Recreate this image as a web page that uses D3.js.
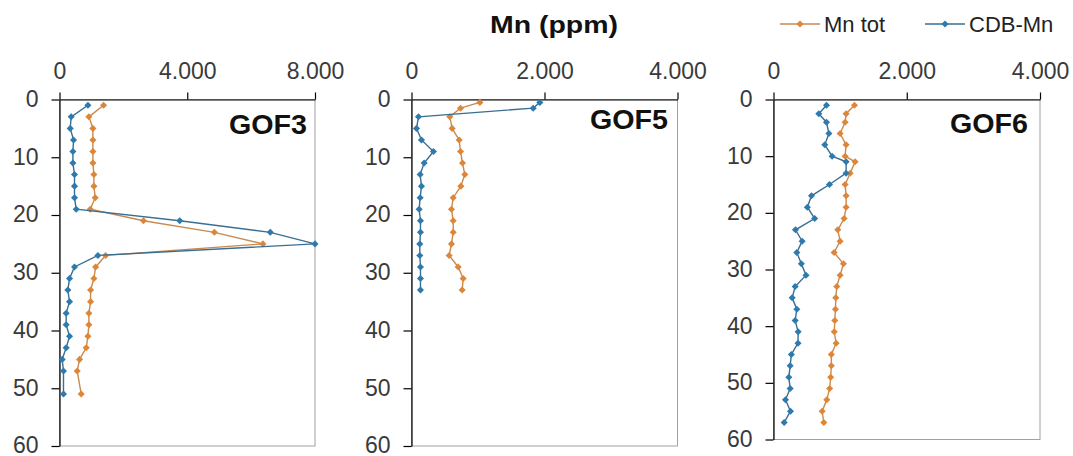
<!DOCTYPE html>
<html><head><meta charset="utf-8">
<script src="https://cdn.jsdelivr.net/npm/d3@7"></script>
<style>
html,body{margin:0;padding:0;background:#fff;}
svg{display:block;font-family:Arial,"Liberation Sans",sans-serif;}
</style></head>
<body><svg id="c" width="1073" height="456"></svg>
<script>
// ---------- DATA ----------
const seriesNames = ["Mn tot", "CDB-Mn"];
const depthTicks = [0, 10, 20, 30, 40, 50, 60];
const depthTickLabels = ["0", "10", "20", "30", "40", "50", "60"];

const gof3Ticks = [0, 4000, 8000];
const gof3TickLabels = ["0", "4.000", "8.000"];
const gof3Depth = [1,3,5,7,9,11,13,15,17,19,21,23,25,27,29,31,33,35,37,39,41,43,45,47,51];
const gof3MnTot = [1380,920,1046,1046,1046,1046,1077,1077,1119,962,2630,4850,6370,1444,1130,1077,973,973,920,920,889,837,628,554,680];
const gof3CdbMn = [890,366,335,440,420,420,470,470,470,523,3766,6600,8000,1203,470,314,261,314,209,209,314,209,84,125,125];

const gof5Ticks = [0, 2000, 4000];
const gof5TickLabels = ["0", "2.000", "4.000"];
const gof5Depth = [0.5,1.5,3,5,7,9,11,13,15,17,19,21,23,25,27,29,31,33];
const gof5MnTot = [1028,737,576,611,717,737,767,802,742,627,601,627,627,601,566,702,777,762];
const gof5CdbMn = [1930,1830,105,75,150,330,190,130,150,130,115,135,135,125,125,135,135,135];

const gof6Ticks = [0, 2000, 4000];
const gof6TickLabels = ["0", "2.000", "4.000"];
const gof6Depth = [1,2.5,4,6,8,10,11,13,15,17,19,21,23,25,27,29,31,33,35,37,39,41,43,45,47,49,51,53,55,57];
const gof6MnTot = [1215,1090,1075,1000,1090,1075,1225,1150,1075,1090,1090,1060,965,1000,910,1050,1000,950,935,930,920,912,940,868,868,858,843,800,730,755];
const gof6CdbMn = [795,680,795,832,770,880,1090,1090,840,570,508,618,330,430,350,418,488,325,280,350,325,370,368,268,250,230,250,180,255,160];

const panelNames = ["GOF3", "GOF5", "GOF6"];

// ---------- LAYOUT ----------
const colTot = "#DE8638", colCdb = "#2D7AAE";
const lineTot = "#C98A4E", lineCdb = "#3A6F92";
const panels = [
  {name: panelNames[0], depth: gof3Depth, tot: gof3MnTot, cdb: gof3CdbMn, ticks: gof3Ticks, labels: gof3TickLabels,
   x0: 59.5, x1: 315, y0: 99.5, y1: 446, lx: 307, ly: 134},
  {name: panelNames[1], depth: gof5Depth, tot: gof5MnTot, cdb: gof5CdbMn, ticks: gof5Ticks, labels: gof5TickLabels,
   x0: 411.5, x1: 677.5, y0: 99.5, y1: 446, lx: 668, ly: 129},
  {name: panelNames[2], depth: gof6Depth, tot: gof6MnTot, cdb: gof6CdbMn, ticks: gof6Ticks, labels: gof6TickLabels,
   x0: 773.5, x1: 1040, y0: 99.5, y1: 439.5, lx: 1028, ly: 133}
];

const svg = d3.select("#c");
const diamond = d3.symbol().type(d3.symbolSquare).size(25);

panels.forEach(p => {
  const x = d3.scaleLinear().domain([p.ticks[0], p.ticks[p.ticks.length-1]]).range([p.x0, p.x1]);
  const y = d3.scaleLinear().domain([0, 60]).range([p.y0, p.y1]);
  const g = svg.append("g");

  g.append("rect").attr("x", p.x0).attr("y", p.y0).attr("width", p.x1 - p.x0).attr("height", p.y1 - p.y0)
    .attr("fill", "none").attr("stroke", "#a0a0a0").attr("stroke-width", 1);

  const xa = g.append("g").attr("transform", `translate(0,${p.y0})`)
    .call(d3.axisTop(x).tickValues(p.ticks).tickFormat((d, i) => p.labels[i]).tickSize(7).tickPadding(14).tickSizeOuter(0));
  const ya = g.append("g").attr("transform", `translate(${p.x0},0)`)
    .call(d3.axisLeft(y).tickValues(depthTicks).tickFormat((d, i) => depthTickLabels[i]).tickSize(8).tickPadding(13).tickSizeOuter(0));
  [xa, ya].forEach(a => {
    a.select(".domain").attr("stroke", "#000").attr("stroke-width", 1.2);
    a.selectAll(".tick line").attr("stroke", "#000").attr("stroke-width", 1.2);
    a.selectAll(".tick text").attr("font-size", 23).attr("fill", "#3a3a3a").attr("font-family", "Arial, 'Liberation Sans', sans-serif");
  });
  ya.selectAll(".tick text").attr("dy", "0.3em");

  const line = d3.line().x(d => x(d[0])).y(d => y(d[1]));
  const draw = (vals, lc, mc) => {
    const pts = vals.map((v, i) => [v, p.depth[i]]);
    g.append("path").datum(pts).attr("d", line).attr("fill", "none").attr("stroke", lc).attr("stroke-width", 1.4);
    g.selectAll(null).data(pts).enter().append("path")
      .attr("d", diamond).attr("fill", mc)
      .attr("transform", d => `translate(${x(d[0])},${y(d[1])}) rotate(45)`);
  };
  draw(p.tot, lineTot, colTot);
  draw(p.cdb, lineCdb, colCdb);

  g.append("text").attr("x", p.lx).attr("y", p.ly).attr("text-anchor", "end")
    .attr("font-size", 27).attr("font-weight", "bold").attr("fill", "#111")
    .attr("textLength", 78).attr("lengthAdjust", "spacingAndGlyphs").text(p.name);
});

// title
svg.append("text").attr("x", 490).attr("y", 33).attr("font-size", 24).attr("font-weight", "bold").attr("fill", "#111")
  .attr("textLength", 128).attr("lengthAdjust", "spacingAndGlyphs").text("Mn (ppm)");

// legend
const legend = [
  {name: seriesNames[0], lc: lineTot, mc: colTot, x: 780, tx: 824},
  {name: seriesNames[1], lc: lineCdb, mc: colCdb, x: 925, tx: 969}
];
legend.forEach(l => {
  const lg = svg.append("g");
  lg.append("line").attr("x1", l.x).attr("x2", l.x + 40).attr("y1", 24).attr("y2", 24).attr("stroke", l.lc).attr("stroke-width", 1.4);
  lg.append("path").attr("d", diamond).attr("fill", l.mc).attr("transform", `translate(${l.x + 20},24) rotate(45)`);
  lg.append("text").attr("x", l.tx).attr("y", 32).attr("font-size", 22).attr("fill", "#222").text(l.name);
});
</script></body></html>
